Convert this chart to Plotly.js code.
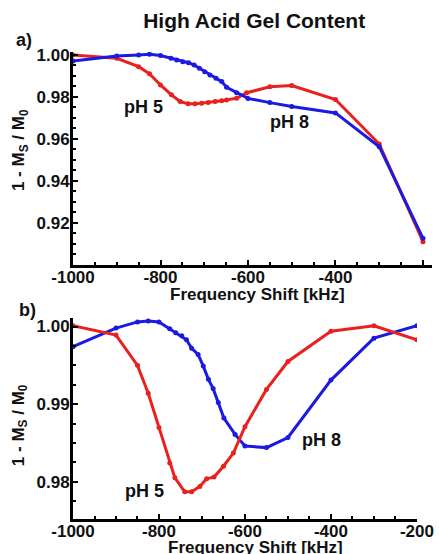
<!DOCTYPE html>
<html>
<head>
<meta charset="utf-8">
<script src="https://cdn.plot.ly/plotly-3.0.1.min.js"></script>
<style>html,body{margin:0;padding:0;background:#fff;}#chart{width:439px;height:554px;}</style>
</head>
<body>
<div id="chart"></div>
<script>
// Panel a) data
const aFreqRed = [-1000,-900,-850,-825,-800,-775,-755,-737,-721,-706,-691,-675,-660,-649,-626,-603,-550,-500,-400,-300,-200];
const aRed = [1.000,0.9984,0.9944,0.9910,0.9857,0.9810,0.9778,0.9767,0.9767,0.9770,0.9773,0.9778,0.9782,0.9786,0.9794,0.9820,0.9848,0.9854,0.9788,0.9576,0.9111];
const aFreqBlue = [-1000,-900,-850,-825,-800,-776,-763,-749,-736,-723,-711,-699,-687,-673,-660,-649,-626,-600,-550,-500,-400,-300,-200];
const aBlue = [0.9971,0.9995,1.000,1.0003,0.9997,0.9984,0.9976,0.9968,0.9963,0.9952,0.9937,0.9920,0.9905,0.9889,0.9873,0.9846,0.9820,0.9793,0.9773,0.9754,0.9724,0.9563,0.9127];
// Panel b) data
const bFreqRed = [-1000,-900,-850,-825,-800,-775,-763,-740,-724,-705,-689,-672,-650,-627,-600,-550,-500,-400,-300,-200];
const bRed = [1.0001,0.9989,0.9950,0.9914,0.9870,0.9824,0.9805,0.9787,0.9787,0.9794,0.9804,0.9806,0.9820,0.9837,0.9871,0.9919,0.9955,0.9994,1.0001,0.9983];
const bFreqBlue = [-1000,-900,-850,-825,-800,-775,-761,-747,-736,-724,-709,-697,-685,-674,-662,-649,-623,-600,-550,-500,-400,-300,-200];
const bBlue = [0.9974,0.9998,1.0006,1.0007,1.0006,0.9997,0.9992,0.9988,0.9983,0.9972,0.9964,0.9949,0.9932,0.9920,0.9902,0.9882,0.9861,0.9846,0.9844,0.9857,0.9931,0.9985,1.0001];
const xTickVals = [-1000,-800,-600,-400,-200];
const aYTicks = [0.92,0.94,0.96,0.98,1.00];
const bYTicks = [0.98,0.99,1.00];
const titleText = 'High Acid Gel Content';
const xTitle = 'Frequency Shift [kHz]';
const yTitle = '1 - M<sub>S</sub> / M<sub>0</sub>';

const RED = '#e8201e', BLUE = '#1a1ae0';
const FONT = 'Liberation Sans, Arial, sans-serif';

function tr(x, y, c, xa, ya) {
  return {x: x, y: y, xaxis: xa, yaxis: ya, type: 'scatter', mode: 'lines+markers',
    line: {color: c, width: 3}, marker: {color: c, size: 5}, showlegend: false, hoverinfo: 'skip'};
}
const data = [
  tr(aFreqRed, aRed, RED, 'x', 'y'),
  tr(aFreqBlue, aBlue, BLUE, 'x', 'y'),
  tr(bFreqBlue, bBlue, BLUE, 'x2', 'y2'),
  tr(bFreqRed, bRed, RED, 'x2', 'y2')
];
const tickFont = {family: FONT, size: 17, color: '#111', weight: 'bold'};
const titleFont = {family: FONT, size: 17, color: '#111', weight: 'bold'};
function xax(domain, range, anchor) {
  return {domain: domain, range: range, anchor: anchor, tickvals: xTickVals, ticktext: xTickVals.map(String),
    showgrid: false, zeroline: false, showline: true, linewidth: 3, linecolor: '#000',
    ticks: 'inside', ticklen: 5, tickwidth: 2, tickcolor: '#000', ticklabelstandoff: -5,
    minor: {dtick: 50, tick0: 0, ticks: 'inside', ticklen: 3, tickwidth: 2, tickcolor: '#000', showgrid: false},
    tickfont: tickFont};
}
function yax(domain, range, anchor, vals, mdt) {
  return {domain: domain, range: range, anchor: anchor, tickvals: vals, ticktext: vals.map(v => v.toFixed(2)),
    showgrid: false, zeroline: false, showline: true, linewidth: 3, linecolor: '#000',
    ticks: 'inside', ticklen: 5, tickwidth: 2, tickcolor: '#000', ticklabelstandoff: -3,
    minor: {dtick: mdt, tick0: 0, ticks: 'inside', ticklen: 3, tickwidth: 2, tickcolor: '#000', showgrid: false},
    tickfont: tickFont};
}
const annFont = {family: FONT, size: 18, color: '#111', weight: 'bold'};
function lab(text, x, y, xref, yref, font, angle) {
  return {text: text, x: x, y: y, xref: xref, yref: yref, showarrow: false, font: font,
    xanchor: 'center', yanchor: 'middle', textangle: angle || 0};
}
const layout = {
  width: 439, height: 554,
  margin: {l: 73, r: 7, t: 52, b: 35},
  paper_bgcolor: '#fff', plot_bgcolor: '#fff',
  title: {text: titleText, font: {family: FONT, size: 21, color: '#111', weight: 'bold'},
    x: 0.579, xanchor: 'center', y: 0.962, yanchor: 'middle', yref: 'container'},
  xaxis: xax([0, 1], [-1000, -179.4], 'y'),
  yaxis: yax([0.544, 1], [0.9, 1.0014], 'x', aYTicks, 0.005),
  xaxis2: xax([0, 0.958], [-1000, -200], 'y2'),
  yaxis2: yax([0, 0.4304], [0.9752, 1.0011], 'x2', bYTicks, 0.0025),
  annotations: [
    lab('pH 5', -840, 0.9752, 'x', 'y', annFont),
    lab('pH 8', -504, 0.9681, 'x', 'y', annFont),
    lab('pH 5', -833, 0.97875, 'x2', 'y2', annFont),
    lab('pH 8', -421, 0.98544, 'x2', 'y2', annFont),
    lab('a)', -0.1365, 1.0257, 'paper', 'paper', annFont),
    lab('b)', -0.128, 0.448, 'paper', 'paper', annFont),
    lab(xTitle, 0.515, 0.480, 'paper', 'paper', titleFont),
    lab(xTitle, 0.507, -0.0600, 'paper', 'paper', titleFont),
    lab(yTitle, -0.1476, 0.79, 'paper', 'paper', titleFont, -90),
    lab(yTitle, -0.1476, 0.201, 'paper', 'paper', titleFont, -90)
  ]
};
Plotly.newPlot('chart', data, layout, {staticPlot: true, displayModeBar: false});
</script>
</body>
</html>
